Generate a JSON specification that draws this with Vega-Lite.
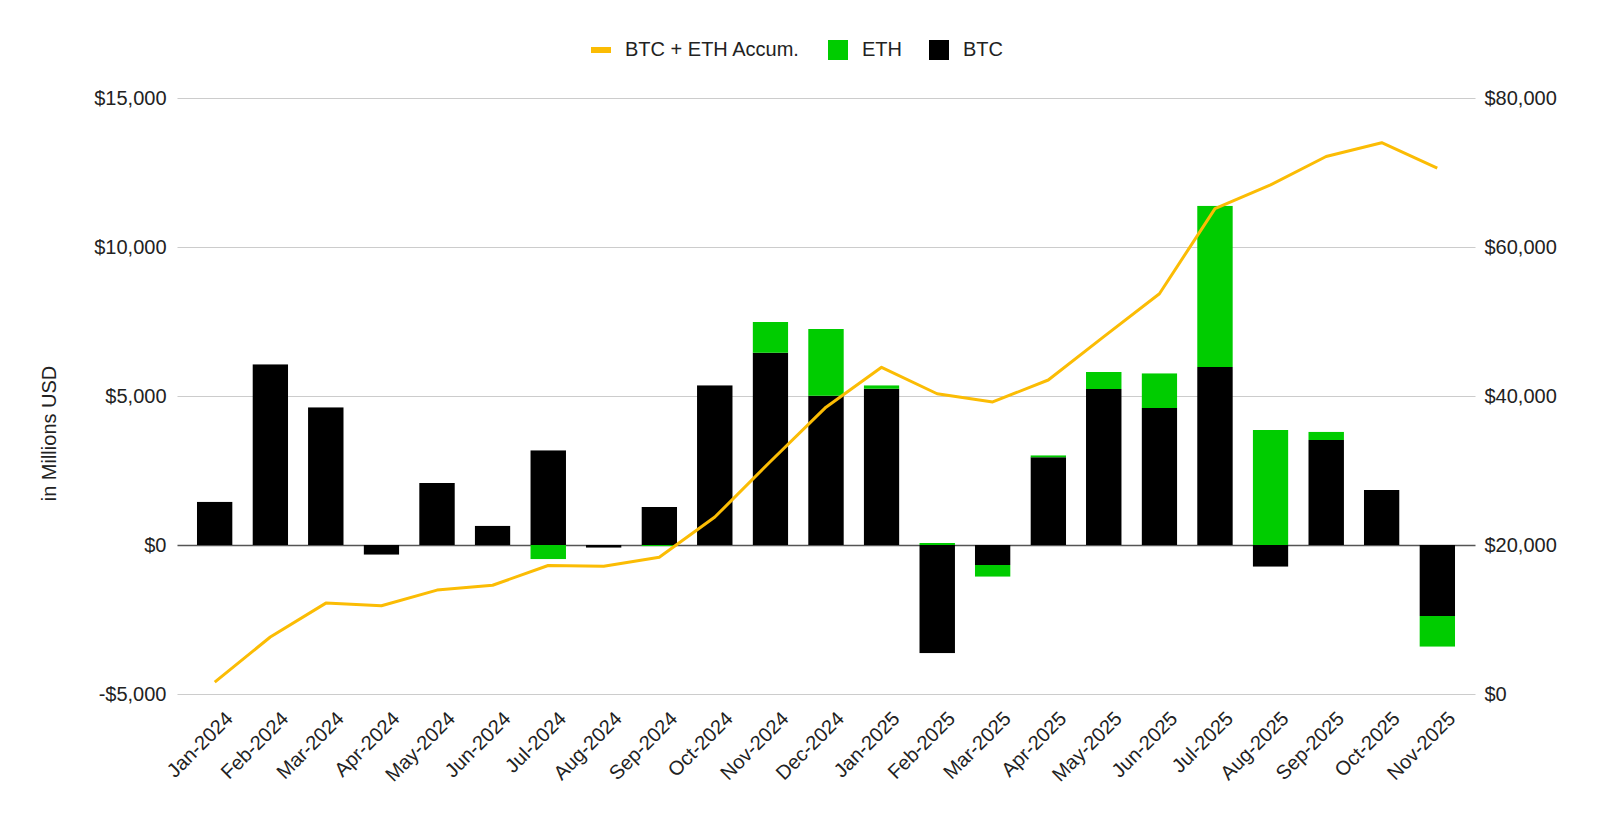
{
  "$schema": "https://vega.github.io/schema/vega-lite/v6.json",
  "autosize": {"type": "none"},
  "padding": {"left": 177, "top": 98, "right": 125, "bottom": 122},
  "width": 1298,
  "height": 596,
  "background": "white",
  "config": {
    "font": "Liberation Sans",
    "view": {"stroke": null},
    "axis": {
      "labelFont": "Liberation Sans",
      "labelFontSize": 20,
      "labelColor": "#222222",
      "titleFont": "Liberation Sans",
      "titleFontSize": 20,
      "titleFontWeight": "normal",
      "titleColor": "#222222",
      "ticks": false,
      "domain": false
    },
    "legend": {
      "labelFont": "Liberation Sans",
      "labelFontSize": 20,
      "labelColor": "#222222",
      "labelLimit": 400
    }
  },
  "data": {
    "values": [
      {"month": "Jan-2024", "series": "BTC", "value": 1453},
      {"month": "Jan-2024", "series": "ETH", "value": 0},
      {"month": "Jan-2024", "series": "BTC + ETH Accum.", "value": 1600},
      {"month": "Feb-2024", "series": "BTC", "value": 6064},
      {"month": "Feb-2024", "series": "ETH", "value": 0},
      {"month": "Feb-2024", "series": "BTC + ETH Accum.", "value": 7650},
      {"month": "Mar-2024", "series": "BTC", "value": 4621},
      {"month": "Mar-2024", "series": "ETH", "value": 0},
      {"month": "Mar-2024", "series": "BTC + ETH Accum.", "value": 12200},
      {"month": "Apr-2024", "series": "BTC", "value": -325},
      {"month": "Apr-2024", "series": "ETH", "value": 0},
      {"month": "Apr-2024", "series": "BTC + ETH Accum.", "value": 11850},
      {"month": "May-2024", "series": "BTC", "value": 2081},
      {"month": "May-2024", "series": "ETH", "value": 0},
      {"month": "May-2024", "series": "BTC + ETH Accum.", "value": 13950},
      {"month": "Jun-2024", "series": "BTC", "value": 648},
      {"month": "Jun-2024", "series": "ETH", "value": 0},
      {"month": "Jun-2024", "series": "BTC + ETH Accum.", "value": 14600},
      {"month": "Jul-2024", "series": "BTC", "value": 3178},
      {"month": "Jul-2024", "series": "ETH", "value": -480},
      {"month": "Jul-2024", "series": "BTC + ETH Accum.", "value": 17250},
      {"month": "Aug-2024", "series": "BTC", "value": -90},
      {"month": "Aug-2024", "series": "ETH", "value": 0},
      {"month": "Aug-2024", "series": "BTC + ETH Accum.", "value": 17150},
      {"month": "Sep-2024", "series": "BTC", "value": 1275},
      {"month": "Sep-2024", "series": "ETH", "value": -40},
      {"month": "Sep-2024", "series": "BTC + ETH Accum.", "value": 18350},
      {"month": "Oct-2024", "series": "BTC", "value": 5360},
      {"month": "Oct-2024", "series": "ETH", "value": 0},
      {"month": "Oct-2024", "series": "BTC + ETH Accum.", "value": 23750},
      {"month": "Nov-2024", "series": "BTC", "value": 6454},
      {"month": "Nov-2024", "series": "ETH", "value": 1030},
      {"month": "Nov-2024", "series": "BTC + ETH Accum.", "value": 31200},
      {"month": "Dec-2024", "series": "BTC", "value": 5011},
      {"month": "Dec-2024", "series": "ETH", "value": 2238},
      {"month": "Dec-2024", "series": "BTC + ETH Accum.", "value": 38500},
      {"month": "Jan-2025", "series": "BTC", "value": 5246},
      {"month": "Jan-2025", "series": "ETH", "value": 114},
      {"month": "Jan-2025", "series": "BTC + ETH Accum.", "value": 43850},
      {"month": "Feb-2025", "series": "BTC", "value": -3635},
      {"month": "Feb-2025", "series": "ETH", "value": 67},
      {"month": "Feb-2025", "series": "BTC + ETH Accum.", "value": 40300},
      {"month": "Mar-2025", "series": "BTC", "value": -671},
      {"month": "Mar-2025", "series": "ETH", "value": -393},
      {"month": "Mar-2025", "series": "BTC + ETH Accum.", "value": 39200},
      {"month": "Apr-2025", "series": "BTC", "value": 2943},
      {"month": "Apr-2025", "series": "ETH", "value": 67},
      {"month": "Apr-2025", "series": "BTC + ETH Accum.", "value": 42150},
      {"month": "May-2025", "series": "BTC", "value": 5235},
      {"month": "May-2025", "series": "ETH", "value": 571},
      {"month": "May-2025", "series": "BTC + ETH Accum.", "value": 47970},
      {"month": "Jun-2025", "series": "BTC", "value": 4598},
      {"month": "Jun-2025", "series": "ETH", "value": 1164},
      {"month": "Jun-2025", "series": "BTC + ETH Accum.", "value": 53720},
      {"month": "Jul-2025", "series": "BTC", "value": 5974},
      {"month": "Jul-2025", "series": "ETH", "value": 5413},
      {"month": "Jul-2025", "series": "BTC + ETH Accum.", "value": 65150},
      {"month": "Aug-2025", "series": "BTC", "value": -728},
      {"month": "Aug-2025", "series": "ETH", "value": 3859},
      {"month": "Aug-2025", "series": "BTC + ETH Accum.", "value": 68350},
      {"month": "Sep-2025", "series": "BTC", "value": 3524},
      {"month": "Sep-2025", "series": "ETH", "value": 279},
      {"month": "Sep-2025", "series": "BTC + ETH Accum.", "value": 72150},
      {"month": "Oct-2025", "series": "BTC", "value": 1846},
      {"month": "Oct-2025", "series": "ETH", "value": 0},
      {"month": "Oct-2025", "series": "BTC + ETH Accum.", "value": 74000},
      {"month": "Nov-2025", "series": "BTC", "value": -2383},
      {"month": "Nov-2025", "series": "ETH", "value": -1030},
      {"month": "Nov-2025", "series": "BTC + ETH Accum.", "value": 70600}
    ]
  },
  "encoding": {
    "x": {
      "field": "month",
      "type": "ordinal",
      "sort": null,
      "title": null,
      "scale": {"paddingInner": 0.358, "paddingOuter": 0.358},
      "axis": {
        "labelAngle": -45,
        "labelAlign": "right",
        "labelBaseline": "top",
        "labelOffset": 8,
        "labelPadding": 14,
        "grid": false
      }
    },
    "color": {
      "field": "series",
      "type": "nominal",
      "scale": {
        "domain": ["BTC + ETH Accum.", "ETH", "BTC"],
        "range": ["#FBBC04", "#00CC00", "#000000"]
      },
      "legend": {
        "title": null,
        "orient": "none",
        "direction": "horizontal",
        "legendX": 414,
        "legendY": -58,
        "symbolType": "square",
        "symbolSize": 400,
        "symbolStrokeWidth": 0,
        "labelOffset": 14,
        "columnPadding": 27,
        "padding": 0,
        "encode": {
          "symbols": {
            "update": {
              "shape": {"signal": "datum.value === 'BTC + ETH Accum.' ? 'M-1,-0.3H1V0.3H-1Z' : 'square'"},
              "cornerRadius": {"value": 2}
            }
          }
        }
      }
    }
  },
  "layer": [
    {
      "transform": [{"filter": "datum.series !== 'BTC + ETH Accum.'"}],
      "mark": {
        "type": "bar",
        "cornerRadiusTopLeft": {"expr": "datum.series === 'ETH' && datum.value > 0 ? 3 : 0"},
        "cornerRadiusTopRight": {"expr": "datum.series === 'ETH' && datum.value > 0 ? 3 : 0"},
        "cornerRadiusBottomLeft": {"expr": "datum.series === 'ETH' && datum.value < 0 ? 3 : 0"},
        "cornerRadiusBottomRight": {"expr": "datum.series === 'ETH' && datum.value < 0 ? 3 : 0"}
      },
      "encoding": {
        "y": {
          "field": "value",
          "type": "quantitative",
          "stack": "zero",
          "title": "in Millions USD",
          "scale": {"domain": [-5000, 15000], "nice": false},
          "axis": {
            "values": [-5000, 0, 5000, 10000, 15000],
            "labelExpr": "datum.value < 0 ? '-$' + format(-datum.value, ',') : '$' + format(datum.value, ',')",
            "labelPadding": 11,
            "grid": true,
            "gridColor": {"condition": {"test": "datum.value === 0", "value": "#555555"}, "value": "#cccccc"},
            "gridWidth": {"condition": {"test": "datum.value === 0", "value": 1.5}, "value": 1.2},
            "titleX": -128,
            "titleY": 335,
            "titleAlign": "center",
            "titleBaseline": "middle",
            "titleAngle": -90
          }
        },
        "order": {"field": "series", "sort": "ascending"}
      }
    },
    {
      "transform": [{"filter": "datum.series === 'BTC + ETH Accum.'"}],
      "mark": {"type": "line", "strokeWidth": 3, "strokeJoin": "round"},
      "encoding": {
        "y": {
          "field": "value",
          "type": "quantitative",
          "title": null,
          "scale": {"domain": [0, 80000], "nice": false},
          "axis": {
            "orient": "right",
            "values": [0, 20000, 40000, 60000, 80000],
            "format": "$,.0f",
            "labelPadding": 9,
            "grid": false
          }
        }
      }
    }
  ],
  "resolve": {"scale": {"y": "independent"}}
}
